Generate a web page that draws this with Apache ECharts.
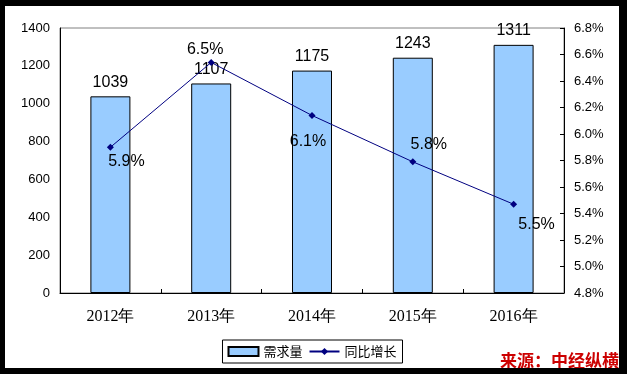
<!DOCTYPE html>
<html>
<head>
<meta charset="utf-8">
<script src="https://cdn.jsdelivr.net/npm/echarts@6/dist/echarts.min.js"></script>
<style>
html,body{margin:0;padding:0;background:#000;width:627px;height:374px;overflow:hidden;}
#c{position:absolute;left:5px;top:6px;width:614px;height:362px;background:#fff;}
</style>
</head>
<body>
<div id="c"></div>
<script>
const categories = ['2012年','2013年','2014年','2015年','2016年'];
const demand = [1039, 1107, 1175, 1243, 1311];
const growth = [5.90, 6.54, 6.14, 5.79, 5.47];
const growthLabelOffsets = [[16,14],[-6,-13],[-4,26],[16,-17],[23,20]];
const seriesNames = ['需求量','同比增长'];
const sourceText = '来源：中经纵横';

const chart = echarts.init(document.getElementById('c'));
const font = '"Liberation Sans", Arial, sans-serif';
chart.setOption({
  animation: false,
  textStyle: {fontFamily: font, color: '#000'},
  grid: {left: 55, top: 22, right: 55, bottom: 75, show: true, borderColor: '#808080', borderWidth: 1, backgroundColor: 'transparent'},
  legend: {
    left: 'center', top: 334,
    data: [{name: seriesNames[0], icon: 'rect'}, {name: seriesNames[1]}],
    itemWidth: 30, itemHeight: 9, itemGap: 6,
    padding: [5, 6, 5, 5],
    borderColor: '#000', borderWidth: 1,
    textStyle: {fontSize: 13, color: '#000', fontFamily: '"Noto Sans CJK SC", sans-serif'}
  },
  xAxis: {
    type: 'category', data: categories,
    axisLine: {lineStyle: {color: '#000', width: 1}},
    axisTick: {show: true, inside: true, length: 4, lineStyle: {color: '#000'}},
    axisLabel: {margin: 16, fontSize: 16, color: '#000', fontFamily: '"Liberation Serif", "Times New Roman", serif'}
  },
  yAxis: [
    {
      type: 'value', min: 0, max: 1400, interval: 200,
      axisLine: {show: true, lineStyle: {color: '#000'}},
      axisTick: {show: false},
      splitLine: {show: false},
      axisLabel: {fontSize: 13, color: '#000', margin: 10, formatter: v => String(v)}
    },
    {
      type: 'value', min: 4.8, max: 6.8, interval: 0.2, position: 'right',
      axisLine: {show: true, lineStyle: {color: '#000'}},
      axisTick: {show: true, inside: true, length: 4, lineStyle: {color: '#000'}},
      splitLine: {show: false},
      axisLabel: {fontSize: 13, color: '#000', margin: 10, formatter: v => v.toFixed(1) + '%'}
    }
  ],
  series: [
    {
      name: seriesNames[0], type: 'bar', data: demand, barWidth: 40,
      itemStyle: {color: '#99CCFF', borderColor: '#000', borderWidth: 1},
      label: {show: true, position: 'top', distance: 6, fontSize: 16, color: '#000'}
    },
    {
      name: seriesNames[1], type: 'line', yAxisIndex: 1,
      data: growth.map((v, i) => ({value: v, label: {offset: growthLabelOffsets[i]}})),
      symbol: 'diamond', symbolSize: 7,
      lineStyle: {color: '#000080', width: 1},
      itemStyle: {color: '#000080'},
      label: {show: true, position: 'inside', fontSize: 16, color: '#000', formatter: p => p.value.toFixed(1) + '%'},
      z: 5
    }
  ],
  graphic: [{
    type: 'text', right: 0, top: 346,
    style: {text: sourceText, fill: '#CC0000', font: 'bold 17px "Noto Sans CJK SC", sans-serif'}
  }]
});
</script>
</body>
</html>
